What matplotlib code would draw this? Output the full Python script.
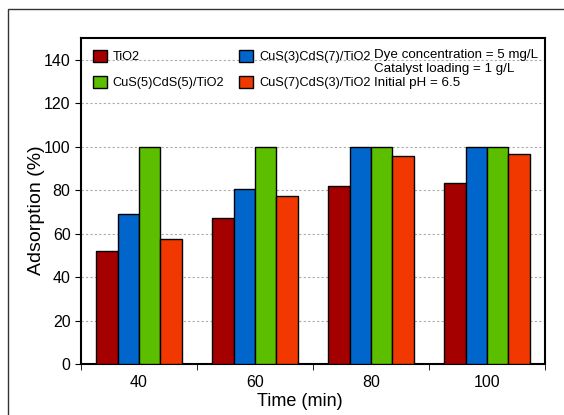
import numpy as np
import matplotlib.pyplot as plt
from matplotlib.patches import Rectangle

plt.rcParams['font.family'] = ['Liberation Sans', 'DejaVu Sans']

times = ['40', '60', '80', '100']
labels = ['TiO2', 'CuS(3)CdS(7)/TiO2', 'CuS(5)CdS(5)/TiO2', 'CuS(7)CdS(3)/TiO2']
tio2 = [52, 67, 82, 83.5]
cus3 = [69, 80.5, 100, 100]
cus5 = [100, 100, 100, 100]
cus7 = [57.5, 77.5, 95.7, 96.5]
colors = ['#A50000', '#0066CC', '#5BBF00', '#F03800']
notes = ['Dye concentration = 5 mg/L', 'Catalyst loading = 1 g/L', 'Initial pH = 6.5']

fig = plt.figure(figsize=(5.64, 4.15), dpi=100)
fig.patches.append(Rectangle((8/564, -0.1), 1.2, (415-9)/415 + 0.1, transform=fig.transFigure,
                             fill=False, edgecolor='#333333', linewidth=1.0))
ax = fig.add_axes([81/564, 51/415, 464/564, 326/415])

x = np.arange(len(times))
w = 0.184
series = [tio2, cus3, cus5, cus7]
offsets = [-1.5, -0.5, 0.5, 1.5]
bars = []
for s, o, c, lab in zip(series, offsets, colors, labels):
    b = ax.bar(x + o * w, s, w, color=c, edgecolor='black', linewidth=1.0, label=lab, zorder=3)
    bars.append(b)

ax.set_xlim(-0.5, 3.5)
ax.set_ylim(0, 150)
ax.set_yticks(np.arange(0, 141, 20))
ax.set_xticks(x)
ax.set_xticklabels(times)
ax.set_xticks(np.arange(-0.5, 3.6, 1), minor=True)
ax.tick_params(axis='x', which='major', length=0, labelsize=11.5, pad=8)
ax.tick_params(axis='x', which='minor', length=4, direction='out')
ax.tick_params(axis='y', labelsize=11.5, length=4, direction='out')
ax.yaxis.grid(True, linestyle=(0, (2, 2)), color='#aaaaaa', linewidth=0.8, zorder=0)
for sp in ax.spines.values():
    sp.set_linewidth(1.5)

ax.set_xlabel('Time (min)', fontsize=13)
ax.set_ylabel('Adsorption (%)', fontsize=14)
ax.xaxis.set_label_coords(0.472, -0.090)
ax.yaxis.set_label_coords(-0.078, 0.472)

# legend ordered: TiO2, CuS(5), CuS(3), CuS(7) in two columns
h = [bars[0], bars[2], bars[1], bars[3]]
l = [labels[0], labels[2], labels[1], labels[3]]
ax.legend(h, l, ncol=2, loc='upper left', frameon=False, fontsize=9.2,
          handlelength=1.1, handleheight=1.1, handletextpad=0.45, columnspacing=1.15,
          labelspacing=0.95, borderpad=0, borderaxespad=0,
          bbox_to_anchor=(12/464, (364-50)/326))

for i, t in enumerate(notes):
    ax.text(0.6315, (364-58)/326 - i * 14/326, t, transform=ax.transAxes,
            fontsize=9.6, va='baseline', ha='left')

fig.savefig('out.png', dpi=100)
